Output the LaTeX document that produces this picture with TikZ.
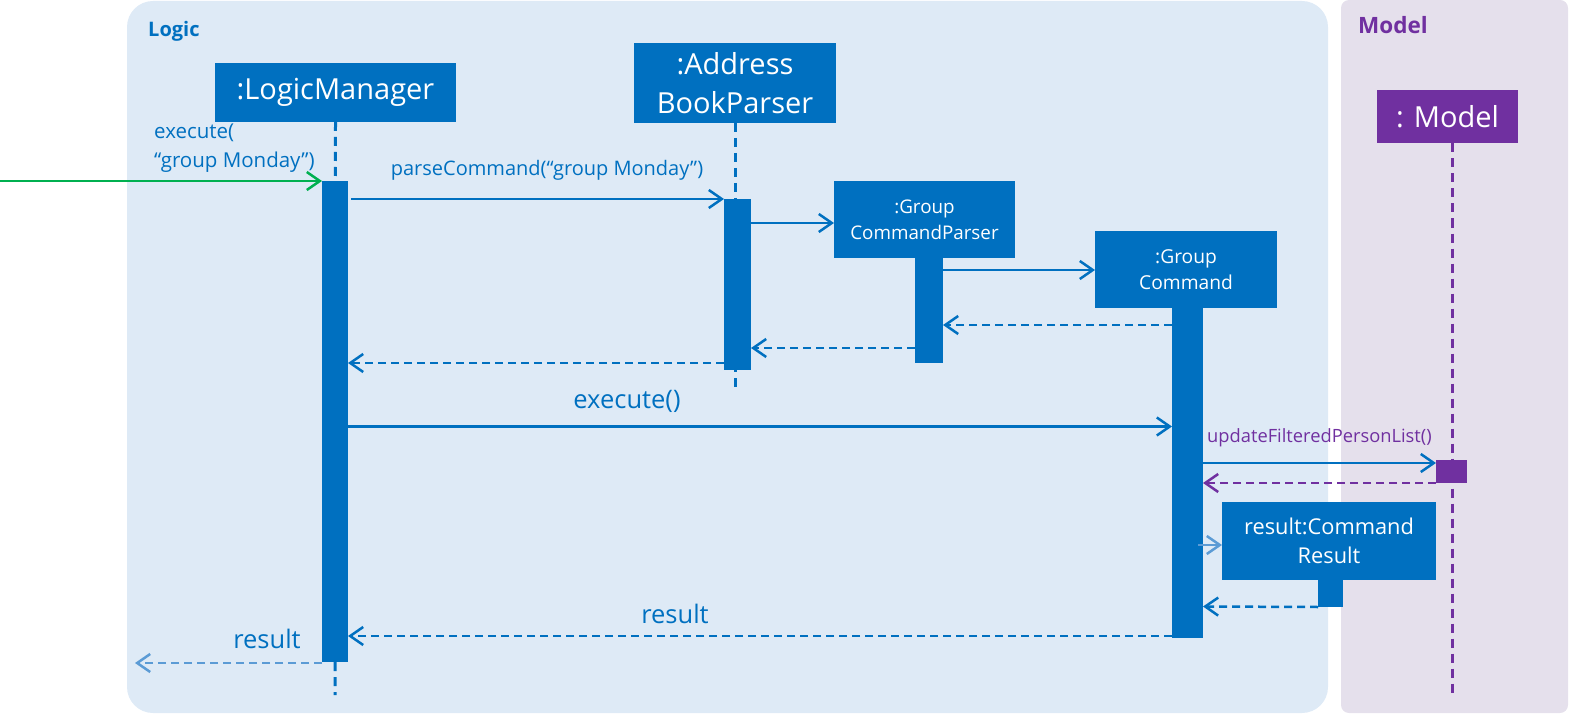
\documentclass[tikz,border=0pt]{standalone}
\usepackage{fontspec}
\setmainfont{Open Sans}
\usetikzlibrary{arrows.meta,calc}
\definecolor{cblue}{HTML}{0070C0}
\definecolor{cpurple}{HTML}{7030A0}
\definecolor{cgreen}{HTML}{00B050}
\definecolor{lblue}{HTML}{5B9BD5}
\definecolor{logicbg}{HTML}{DEEAF6}
\definecolor{modelbg}{HTML}{E5E0EC}
\begin{document}
\begin{tikzpicture}[x=1pt,y=-1pt,
 objbox/.style={fill=cblue, text=white, align=center, inner sep=0pt, outer sep=0pt},
 actbar/.style={fill=cblue, inner sep=0pt, outer sep=0pt},
 msg/.style={draw=cblue, line width=2.5pt, -{Straight Barb[length=13pt,width=18pt]}},
 ret/.style={msg, dash pattern=on 8pt off 5pt},
 life/.style={draw=cblue, line width=3pt, dash pattern=on 9pt off 6pt},
 lbl/.style={text=cblue, inner sep=0pt},
 fbig/.style={font=\fontsize{29}{39}\selectfont},
 fmid/.style={font=\fontsize{25.5}{29}\selectfont},
 fsmall/.style={font=\fontsize{20}{29}\selectfont},
 fbox/.style={font=\fontsize{18.8}{26}\selectfont},
 fhead/.style={font=\fontsize{20}{24}\selectfont\bfseries},
]
\useasboundingbox (0,0) rectangle (1571,714);
% panels
\fill[logicbg, rounded corners=26pt] (127,1) rectangle (1328,713);
\fill[modelbg, rounded corners=8pt] (1341,0) rectangle (1568,713);
\node[lbl, fhead, anchor=west] (logiclbl) at (148,31) {Logic};
\node[lbl, fhead, font=\fontsize{22.5}{26}\selectfont\bfseries, anchor=west, text=cpurple] (modellbl) at (1358,25) {Model};

% objects
\node[objbox, fbig, minimum width=241pt, minimum height=59pt] (lm) at (335.5,92.5) {:LogicManager};
\node[objbox, fbig, minimum width=202pt, minimum height=80pt] (abp) at (735,83) {:Address\\BookParser};
\node[objbox, fbox, minimum width=181pt, minimum height=77pt] (gcp) at (924.5,219.5) {:Group\\CommandParser};
\node[objbox, fbox, font=\fontsize{19.2}{26}\selectfont, minimum width=182pt, minimum height=77pt] (gc) at (1186,269.5) {:Group\\Command};
\node[objbox, font=\fontsize{21.8}{29}\selectfont, minimum width=214pt, minimum height=78pt] (cr) at (1329,541) {result:Command\\Result};
\node[objbox, fbig, fill=cpurple, minimum width=141pt, minimum height=53pt] (md) at (1447.5,117) {: Model};

% lifeline ends
\coordinate (lmend) at (335,695);
\coordinate (abpend) at (735,388);
\coordinate (mdend) at (1452,693);
\draw[life] (lm.south) -- (lmend);
\draw[life] (abp.south) -- (abpend);
\draw[life, draw=cpurple] (md.south -| mdend) -- (mdend);

% activation bars
\node[actbar, minimum width=26pt, minimum height=481pt] (lma) at (335,421.5) {};
\node[actbar, minimum width=27pt, minimum height=171pt] (abpa) at (737.5,284.5) {};
\node[actbar, minimum width=28pt, minimum height=105pt] (gcpa) at (929,310.5) {};
\node[actbar, minimum width=31pt, minimum height=330pt] (gca) at (1187.5,473) {};
\node[actbar, fill=cpurple, minimum width=31pt, minimum height=23pt] (mda) at (1451.5,471.5) {};
\node[actbar, minimum width=25pt, minimum height=27pt] (cra) at (1330.5,593.5) {};

% y levels
\coordinate (yA) at (0,223);
\coordinate (yB) at (0,270);
\coordinate (yC) at (0,325);
\coordinate (yD) at (0,348);
\coordinate (yE) at (0,363);
\coordinate (yF) at (0,426.5);
\coordinate (yG) at (0,463);
\coordinate (yH) at (0,483);
\coordinate (yI) at (0,545);
\coordinate (yJ) at (0,606.5);
\coordinate (yK) at (0,636);
\coordinate (yL) at (0,663);
\coordinate (start) at (0,181);
\coordinate (finish) at (135,663);

% messages
\draw[msg, draw=cgreen] (start) -- (lma.north west);
\draw[msg, shorten <=3pt] (lma.east |- abpa.north) -- (abpa.north west);
\draw[msg] (abpa.east |- yA) -- (gcp.west |- yA);
\draw[msg] (gcpa.east |- yB) -- (gc.west |- yB);
\draw[ret] (gca.west |- yC) -- (gcpa.east |- yC);
\draw[ret] (gcpa.west |- yD) -- (abpa.east |- yD);
\draw[ret] (abpa.west |- yE) -- (lma.east |- yE);
\draw[msg] (lma.east |- yF) -- (gca.west |- yF);
\draw[msg] (gca.east |- yG) -- (mda.west |- yG);
\draw[ret, draw=cpurple] (mda.south west) -- (gca.east |- yH);
\draw[msg, draw=lblue, shorten <=-5pt] (gca.east |- yI) -- (cr.west |- yI);
\draw[ret] (cra.south west) -- (gca.east |- yJ);
\draw[ret] (gca.west |- yK) -- (lma.east |- yK);
\draw[ret, draw=lblue] (lma.west |- yL) -- (finish);

% labels
\node[lbl, font=\fontsize{20.5}{29}\selectfont, align=left, anchor=west] (l1) at (154,148) {execute(\\“group Monday”)};
\node[lbl, fsmall] (l2) at (547,170) {parseCommand(“group Monday”)};
\node[lbl, fmid] (l3) at (627,401) {execute()};
\node[lbl, font=\fontsize{18.3}{24}\selectfont, text=cpurple, anchor=west] (l4) at (1207,438) {updateFilteredPersonList()};
\node[lbl, fmid] (l5) at (675,614) {result};
\node[lbl, fmid] (l6) at (267,639) {result};
\end{tikzpicture}
\end{document}
